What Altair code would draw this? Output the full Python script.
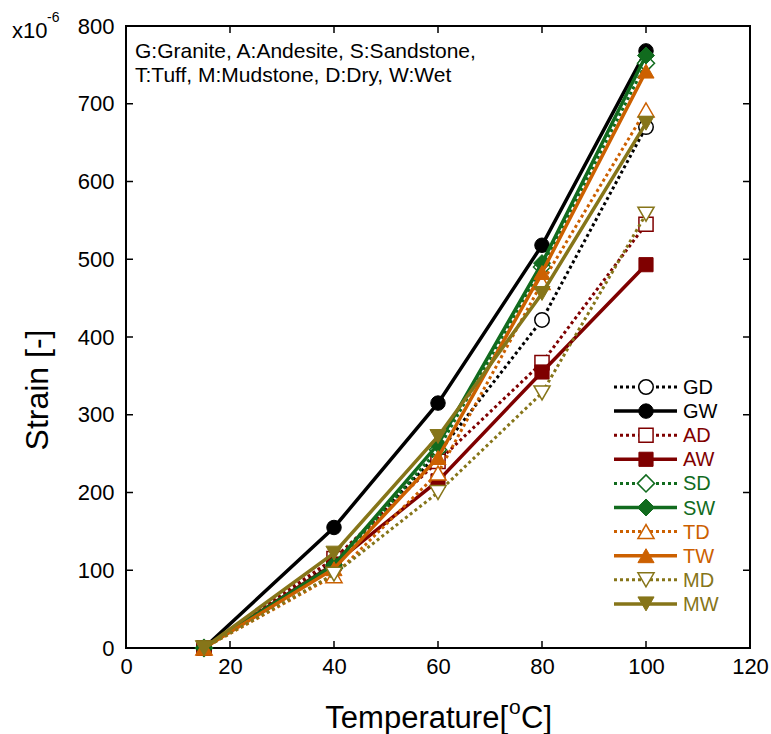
import altair as alt
import pandas as pd

# ---- data ----
temps = [15, 40, 60, 80, 100]
codes = ["GD", "GW", "AD", "AW", "SD", "SW", "TD", "TW", "MD", "MW"]
GD = [0, 110, 250, 422, 670]
GW = [0, 155, 315, 518, 768]
AD = [0, 115, 240, 367, 545]
AW = [0, 108, 215, 355, 493]
SD = [0, 103, 255, 490, 752]
SW = [0, 107, 262, 495, 762]
TD = [0, 93, 225, 470, 692]
TW = [0, 102, 245, 483, 742]
MD = [0, 95, 200, 328, 558]
MW = [0, 122, 272, 456, 675]
values = [GD, GW, AD, AW, SD, SW, TD, TW, MD, MW]

rock_colors = {"G": "#000000", "A": "#7f0000", "S": "#116b1e", "T": "#cc6000", "M": "#867519"}
rock_shapes = {"G": "circle", "A": "square", "S": "diamond", "T": "triangle-up", "M": "triangle-down"}
rock_sizes = {"G": 210, "A": 200, "S": 290, "T": 260, "M": 260}

x_ticks = [0, 20, 40, 60, 80, 100, 120]
y_ticks = [0, 100, 200, 300, 400, 500, 600, 700, 800]

note_lines = ["G:Granite, A:Andesite, S:Sandstone,", "T:Tuff, M:Mudstone, D:Dry, W:Wet"]

W, H = 624, 622
FONT = "Liberation Sans"

xscale = alt.Scale(domain=[0, 120], nice=False, zero=False)
yscale = alt.Scale(domain=[0, 800], nice=False)

xaxis = alt.Axis(values=x_ticks, ticks=False, domain=False, grid=False, labelFontSize=22,
                 labelFont=FONT, labelColor="black", labelPadding=8, title=None, labelFlush=False)
yaxis = alt.Axis(values=y_ticks, ticks=False, domain=False, grid=False, labelFontSize=22,
                 labelFont=FONT, labelColor="black", labelPadding=12, title=None)

layers = []

# inward ticks on all four sides
xt = pd.DataFrame({"v": x_ticks})
yt = pd.DataFrame({"v": y_ticks})
base_x = alt.Chart(xt).mark_rule(color="black", strokeWidth=1.5)
base_y = alt.Chart(yt).mark_rule(color="black", strokeWidth=1.5)
layers.append(base_x.encode(x=alt.X("v:Q", scale=xscale, axis=xaxis), y=alt.value(H), y2=alt.value(H - 7)))
layers.append(base_x.encode(x=alt.X("v:Q", scale=xscale), y=alt.value(0), y2=alt.value(7)))
layers.append(base_y.encode(y=alt.Y("v:Q", scale=yscale, axis=yaxis), x=alt.value(0), x2=alt.value(7)))
layers.append(base_y.encode(y=alt.Y("v:Q", scale=yscale), x=alt.value(W), x2=alt.value(W - 7)))

# series
for i, (code, vals) in enumerate(zip(codes, values)):
    rock, state = code[0], code[1]
    col = rock_colors[rock]
    df = pd.DataFrame({"T": temps, "S": vals})
    dry = state == "D"
    line_kw = dict(color=col, strokeWidth=3 if dry else 3.5)
    if dry:
        line_kw["strokeDash"] = [3, 3]
    enc = dict(x=alt.X("T:Q", scale=xscale), y=alt.Y("S:Q", scale=yscale))
    layers.append(alt.Chart(df).mark_line(**line_kw).encode(**enc))
    pt_kw = dict(shape=rock_shapes[rock], size=rock_sizes[rock], stroke=col, opacity=1,
                 fill="white" if dry else col, filled=True, strokeWidth=1.5 if dry else 1)
    layers.append(alt.Chart(df).mark_point(**pt_kw).encode(**enc))

    # legend entry
    ly = 361 + 24.1 * i
    one = pd.DataFrame({"label": [code]})
    layers.append(alt.Chart(one).mark_rule(**line_kw).encode(
        x=alt.value(488), x2=alt.value(551), y=alt.value(ly)))
    layers.append(alt.Chart(one).mark_point(**pt_kw).encode(x=alt.value(520), y=alt.value(ly)))
    layers.append(alt.Chart(one).mark_text(align="left", baseline="middle", font=FONT,
                                           fontSize=20, color=col).encode(
        x=alt.value(557), y=alt.value(ly + 1), text="label:N"))

# annotation note
for j, line in enumerate(note_lines):
    layers.append(alt.Chart(pd.DataFrame({"t": [line]})).mark_text(
        align="left", baseline="alphabetic", font=FONT, fontSize=21, color="black").encode(
        x=alt.value(9), y=alt.value(32 + 24 * j), text="t:N"))

# multiplier x10^-6
layers.append(alt.Chart(pd.DataFrame({"t": ["x10"]})).mark_text(
    align="left", baseline="alphabetic", font=FONT, fontSize=22, color="black").encode(
    x=alt.value(-114), y=alt.value(12), text="t:N"))
layers.append(alt.Chart(pd.DataFrame({"t": ["-6"]})).mark_text(
    align="left", baseline="alphabetic", font=FONT, fontSize=14, color="black").encode(
    x=alt.value(-79), y=alt.value(-4), text="t:N"))

# axis titles
layers.append(alt.Chart(pd.DataFrame({"t": ["Strain [-]"]})).mark_text(
    align="center", baseline="middle", font=FONT, fontSize=32, angle=270, color="black").encode(
    x=alt.value(-88), y=alt.value(364), text="t:N"))
layers.append(alt.Chart(pd.DataFrame({"t": ["Temperature["]})).mark_text(
    align="right", baseline="alphabetic", font=FONT, fontSize=31, color="black").encode(
    x=alt.value(382), y=alt.value(702), text="t:N"))
layers.append(alt.Chart(pd.DataFrame({"t": ["o"]})).mark_text(
    align="left", baseline="alphabetic", font=FONT, fontSize=21, color="black").encode(
    x=alt.value(383), y=alt.value(688), text="t:N"))
layers.append(alt.Chart(pd.DataFrame({"t": ["C]"]})).mark_text(
    align="left", baseline="alphabetic", font=FONT, fontSize=31, color="black").encode(
    x=alt.value(395), y=alt.value(702), text="t:N"))

chart = alt.layer(*layers).properties(
    width=W, height=H,
    autosize=alt.AutoSizeParams(type="none"),
    padding={"left": 126, "top": 26, "right": 21, "bottom": 86},
    background="white",
).configure_view(stroke="black", strokeWidth=2)

chart.save("out.html", embed_options={"renderer": "svg", "actions": False})
